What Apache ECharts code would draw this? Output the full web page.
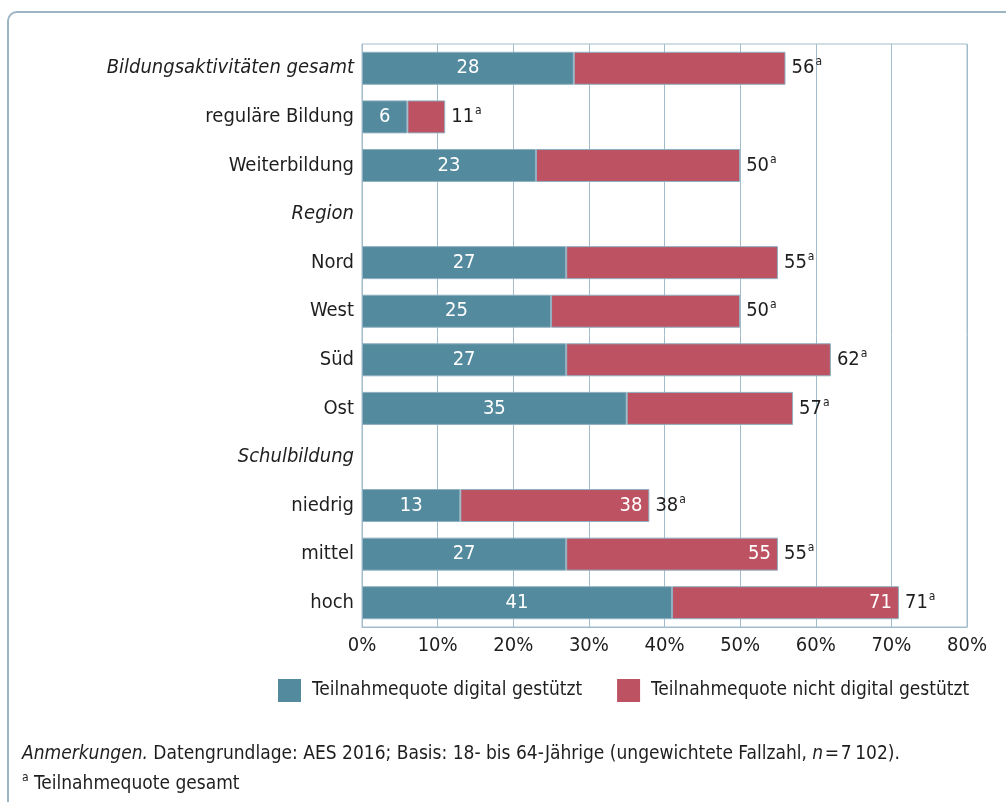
<!DOCTYPE html>
<html>
<head>
<meta charset="utf-8">
<script src="https://cdn.jsdelivr.net/npm/echarts@6/dist/echarts.min.js"></script>
<style>
  html, body { margin: 0; padding: 0; background: #fff; }
  #chart { width: 1006px; height: 802px; }
</style>
</head>
<body>
<div id="chart"></div>
<script>
// Participation rates (%), AES 2016
const categories = [
  'Bildungsaktivitäten gesamt', 'reguläre Bildung', 'Weiterbildung',
  'Region', 'Nord', 'West', 'Süd', 'Ost',
  'Schulbildung', 'niedrig', 'mittel', 'hoch'
];
// group headings (drawn in italics, no bar)
const headings = ['Bildungsaktivitäten gesamt', 'Region', 'Schulbildung'];
// digitally supported participation rate
const digital = [28, 6, 23, null, 27, 25, 27, 35, null, 13, 27, 41];
// total participation rate
const total = [56, 11, 50, null, 55, 50, 62, 57, null, 38, 55, 71];
// rows whose total is also printed inside the red segment
const totalInside = ['niedrig', 'mittel', 'hoch'];
const xTicks = [0, 10, 20, 30, 40, 50, 60, 70, 80];

const BLUE = '#548a9e';
const RED = '#bd5263';
const GRID = '#a3bccb';
const TEXT = '#1e1e1e';
const FONT = "'DejaVu Sans Condensed', Roboto, sans-serif";

const notDigital = total.map((t, i) => (t == null ? null : t - digital[i]));

const chart = echarts.init(document.getElementById('chart'));

chart.setOption({
  animation: false,
  textStyle: { fontFamily: FONT },
  grid: {
    left: 362, right: 39, top: 44, bottom: 175,
    show: true, borderColor: GRID, borderWidth: 1
  },
  legend: {
    data: ['Teilnahmequote digital gestützt', 'Teilnahmequote nicht digital gestützt'],
    left: 278, top: 679, padding: 0,
    icon: 'rect', itemWidth: 23, itemHeight: 23, itemGap: 35,
    itemStyle: { borderWidth: 0 },
    textStyle: { fontSize: 19, color: TEXT, fontFamily: FONT, padding: [0, 0, 0, 6] }
  },
  xAxis: {
    type: 'value', min: 0, max: 80, interval: 10,
    axisLine: { show: true, lineStyle: { color: GRID, width: 1 } },
    axisTick: { show: false },
    splitLine: { show: true, lineStyle: { color: GRID, width: 1 } },
    axisLabel: {
      formatter: v => (xTicks.includes(v) ? v + '%' : ''),
      fontSize: 20, color: TEXT, margin: 9, fontFamily: FONT
    }
  },
  yAxis: {
    type: 'category', data: categories, inverse: true,
    axisLine: { show: true, lineStyle: { color: GRID } },
    axisTick: { show: false },
    axisLabel: {
      margin: 8,
      formatter: v => (headings.includes(v) ? '{i|' + v + '}' : '{n|' + v + '}'),
      rich: {
        n: { fontSize: 20, color: TEXT, fontFamily: FONT },
        i: { fontSize: 20, color: TEXT, fontFamily: FONT, fontStyle: 'italic' }
      }
    }
  },
  series: [
    {
      // invisible full-length bar that carries the total label on its right
      name: 'gesamt',
      type: 'bar', barWidth: 33, barGap: '-100%', z: 1,
      data: total,
      itemStyle: { color: 'rgba(255,255,255,0)', borderWidth: 0 },
      silent: true,
      label: {
        show: true, position: 'right', distance: 6,
        color: TEXT,
        formatter: p => (p.value == null ? '' : '{v|' + p.value + '}{s|a}'),
        rich: {
          v: { fontSize: 20, lineHeight: 24, color: TEXT, fontFamily: FONT },
          s: { fontSize: 12, lineHeight: 12, color: TEXT, fontFamily: FONT, verticalAlign: 'top', padding: [0, 0, 0, 1] }
        }
      }
    },
    {
      name: 'Teilnahmequote digital gestützt',
      type: 'bar', stack: 'quote', barWidth: 33, barGap: '-100%', z: 2,
      data: digital,
      itemStyle: { color: BLUE, borderColor: '#8fb0c0', borderWidth: 1 },
      label: {
        show: true, position: 'inside', color: '#fff', fontSize: 20, fontFamily: FONT,
        formatter: p => (p.value == null ? '' : String(p.value))
      }
    },
    {
      name: 'Teilnahmequote nicht digital gestützt',
      type: 'bar', stack: 'quote', barWidth: 33, barGap: '-100%', z: 2,
      data: notDigital,
      itemStyle: { color: RED, borderColor: '#8fb0c0', borderWidth: 1 },
      label: {
        show: true, position: 'insideRight', distance: 7,
        color: '#fff', fontSize: 20, fontFamily: FONT,
        formatter: p => (totalInside.includes(p.name) ? String(total[p.dataIndex]) : '')
      }
    }
  ],
  graphic: [
    {
      type: 'rect',
      shape: { x: 8, y: 12, width: 1100, height: 900, r: 9 },
      style: { fill: 'none', stroke: '#9db5c2', lineWidth: 2 },
      silent: true, z: -1
    },
    {
      type: 'text', left: 22, top: 745,
      style: {
        text: '{i|Anmerkungen.} Datengrundlage: AES 2016; Basis: 18- bis 64-Jährige (ungewichtete Fallzahl, {i|n}\u200a=\u200a7\u2009102).',
        fontSize: 19, fill: TEXT, fontFamily: FONT,
        rich: { i: { fontStyle: 'italic', fontSize: 19, fill: TEXT, fontFamily: FONT } }
      }
    },
    {
      type: 'text', left: 22, top: 772,
      style: {
        text: '{s|a} {t|Teilnahmequote gesamt}',
        fontSize: 19, fill: TEXT, fontFamily: FONT,
        rich: {
          t: { fontSize: 19, lineHeight: 24, fill: TEXT, fontFamily: FONT },
          s: { fontSize: 12, lineHeight: 12, fill: TEXT, fontFamily: FONT, verticalAlign: 'top' }
        }
      }
    }
  ]
});
</script>
</body>
</html>
